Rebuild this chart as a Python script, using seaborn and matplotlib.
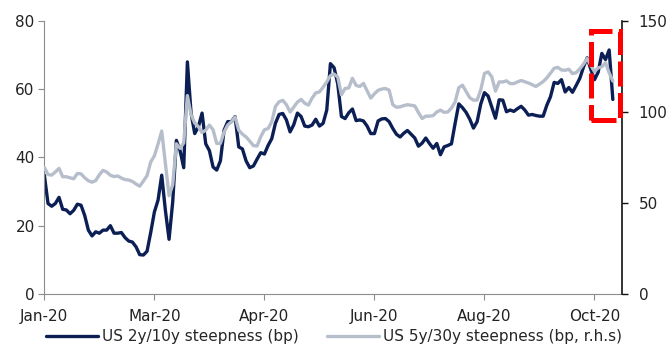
import numpy as np
import pandas as pd
import matplotlib
matplotlib.use("Agg")
import matplotlib.pyplot as plt
import matplotlib.dates as mdates
import seaborn as sns
from matplotlib.patches import Rectangle

# ---------------- data ----------------
dates = pd.date_range("2020-01-01", periods=156, freq="2D")

us_2s10s = [
    34.8, 26.5, 25.7, 26.5, 28.3, 24.8, 24.6, 23.5, 24.5, 26.3,
    26.0, 23.0, 18.7, 17.0, 18.2, 17.8, 18.7, 18.7, 20.0, 17.8,
    17.8, 18.0, 16.5, 15.5, 15.2, 13.8, 11.5, 11.4, 12.5, 18.0,
    24.0, 27.5, 34.8, 24.5, 16.0, 27.0, 45.0, 42.0, 37.0, 68.0,
    53.0, 47.0, 49.0, 53.0, 44.0, 42.0, 37.2, 36.3, 39.0, 48.0,
    50.5, 50.5, 52.0, 43.1, 42.5, 39.0, 37.0, 37.5, 39.5, 41.4,
    41.0, 43.5, 45.5, 50.0, 52.6, 52.9, 51.0, 47.5, 49.6, 53.0,
    52.0, 49.2, 49.0, 49.5, 51.2, 49.2, 50.0, 53.9, 67.5, 66.3,
    61.5, 52.0, 51.4, 53.1, 54.2, 50.8, 51.0, 50.7, 49.2, 47.0,
    47.0, 50.7, 51.3, 51.4, 50.5, 48.5, 46.8, 46.0, 47.1, 47.9,
    46.8, 45.7, 43.3, 44.2, 45.7, 44.1, 42.7, 44.1, 40.8, 43.1,
    43.5, 44.0, 50.0, 55.7, 54.6, 53.2, 51.2, 48.6, 50.5, 55.7,
    59.0, 58.0, 54.8, 51.5, 56.9, 56.8, 53.4, 53.9, 53.5, 54.3,
    55.0, 53.9, 52.4, 52.6, 52.3, 52.1, 52.1, 55.3, 57.8, 62.0,
    61.7, 62.8, 59.2, 60.5, 59.1, 61.1, 63.2, 66.5, 69.2, 65.8,
    62.8, 65.0, 70.5, 68.7, 71.5, 57.0,
]

us_5s30s = [
    69.5, 65.6, 65.3, 67.0, 69.0, 64.4, 64.4, 63.8, 63.3, 66.2,
    66.0, 63.8, 62.2, 61.4, 62.3, 65.5, 67.9, 67.0, 65.2, 64.5,
    64.8, 63.7, 62.8, 62.6, 61.8, 60.4, 59.2, 62.0, 65.0, 72.5,
    75.9, 82.4, 89.5, 71.5, 54.0, 60.0, 82.5, 80.0, 83.0, 109.0,
    98.5, 93.9, 91.9, 88.7, 90.0, 92.8, 90.2, 82.7, 82.7, 89.0,
    92.8, 94.6, 97.3, 90.0, 87.8, 86.3, 84.0, 81.5, 81.3, 86.4,
    90.2, 90.9, 94.6, 103.0, 105.6, 106.4, 104.0, 100.0, 102.7, 105.4,
    106.9, 104.8, 103.8, 107.6, 110.5, 111.0, 113.6, 116.5, 120.0, 120.8,
    119.2, 109.5, 112.9, 113.2, 118.5, 114.6, 114.0, 115.7, 111.6, 107.6,
    110.0, 111.9, 112.6, 112.9, 112.0, 104.0, 102.6, 102.8, 103.5, 104.0,
    103.7, 103.3, 99.7, 96.4, 97.7, 97.7, 98.0, 100.0, 101.0, 99.8,
    100.0, 102.2, 105.5, 113.4, 114.7, 111.3, 107.8, 106.5, 106.5, 112.2,
    121.2, 122.0, 119.3, 111.5, 116.5, 116.5, 117.1, 115.6, 115.6, 116.5,
    117.3, 116.6, 115.9, 115.0, 114.0, 115.3, 116.7, 118.7, 121.3, 124.0,
    124.5, 123.1, 122.9, 123.5, 121.1, 121.6, 123.7, 126.3, 129.4, 125.6,
    122.2, 124.3, 124.8, 127.1, 121.5, 117.0,
]

series_names = ["US 2y/10y steepness (bp)", "US 5y/30y steepness (bp, r.h.s)"]
tick_dates = ["2020-01-01", "2020-03-01", "2020-04-30", "2020-06-29", "2020-08-28", "2020-10-27"]
tick_labels = ["Jan-20", "Mar-20", "Apr-20", "Jun-20", "Aug-20", "Oct-20"]
left_ticks = [0, 20, 40, 60, 80]
right_ticks = [0, 50, 100, 150]
x_range = ["2020-01-01", "2020-11-11"]
highlight_dates = ["2020-10-25", "2020-11-10"]
highlight_right_range = [95.8, 144.4]   # in right-axis units

# ---------------- styling ----------------
NAVY = "#0B1F55"
GREY = "#B7BECB"
FS = 11

sns.set_style("white")
plt.rcParams["font.family"] = ["DejaVu Sans"]
plt.rcParams["font.size"] = FS

df = pd.DataFrame({"date": dates, "a": us_2s10s, "b": us_5s30s})

fig = plt.figure(figsize=(6.72, 3.47), dpi=100)
ax = fig.add_axes([0.066, 0.153, 0.8596, 0.7865])
ax2 = ax.twinx()

sns.lineplot(data=df, x="date", y="a", ax=ax, color=NAVY, linewidth=2.4,
             label=series_names[0], legend=False)
sns.lineplot(data=df, x="date", y="b", ax=ax2, color=GREY, linewidth=2.4,
             label=series_names[1], legend=False)

ax.set_ylim(left_ticks[0], left_ticks[-1])
ax2.set_ylim(right_ticks[0], right_ticks[-1])
ax.set_yticks(left_ticks)
ax2.set_yticks(right_ticks)
ax.set_xlim(pd.to_datetime(x_range[0]), pd.to_datetime(x_range[1]))
ax.set_xticks(pd.to_datetime(tick_dates))
ax.set_xticklabels(tick_labels)
ax.set_xlabel("")
ax.set_ylabel("")
ax2.set_ylabel("")

for a in (ax, ax2):
    a.spines["top"].set_visible(False)
    a.grid(False)
ax.spines["right"].set_visible(False)
ax2.spines["left"].set_visible(False)
ax2.spines["bottom"].set_visible(False)
ax.spines["left"].set_color("#8C8C8C")
ax.spines["bottom"].set_color("#8C8C8C")
ax2.spines["right"].set_color("#111111")
ax2.spines["right"].set_linewidth(1.2)

ax.tick_params(axis="y", direction="out", length=4, width=0.8, color="#8C8C8C",
               pad=3.0, labelsize=FS, labelcolor="#222222", left=True)
ax.tick_params(axis="x", direction="out", length=4, width=0.8, color="#8C8C8C",
               pad=7, labelsize=FS, labelcolor="#222222", bottom=True)
ax2.tick_params(axis="y", direction="out", length=4, width=1.0, color="#111111",
                pad=8, labelsize=FS, labelcolor="#222222", right=True)

# red dashed highlight box (annotation), drawn on the top (right) axes
rx0 = mdates.date2num(pd.to_datetime(highlight_dates[0]))
rx1 = mdates.date2num(pd.to_datetime(highlight_dates[1]))
rect = Rectangle((rx0, highlight_right_range[0]), rx1 - rx0,
                 highlight_right_range[1] - highlight_right_range[0],
                 fill=False, edgecolor="#FF0000", linewidth=3.6,
                 linestyle=(0, (5, 1.3)), clip_on=False, zorder=10)
ax2.add_patch(rect)

h1, l1 = ax.get_legend_handles_labels()
h2, l2 = ax2.get_legend_handles_labels()
fig.legend(h1 + h2, l1 + l2, loc="center", bbox_to_anchor=(0.497, 0.03),
           ncol=2, frameon=False, fontsize=FS, handlelength=3.4,
           handletextpad=0.25, columnspacing=1.9, borderpad=0.1)

fig.savefig("out.png", dpi=100)
